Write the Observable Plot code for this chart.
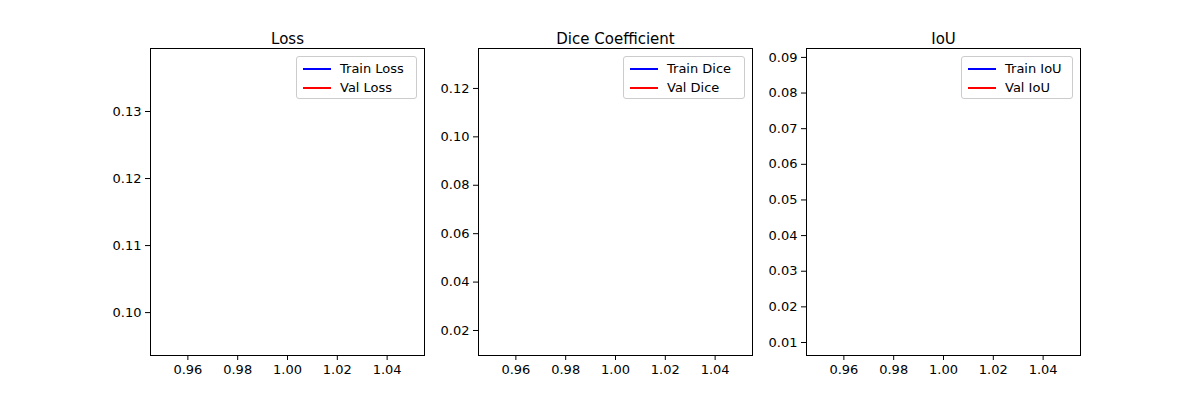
<!DOCTYPE html>
<html><head><meta charset="utf-8">
<script src="https://cdn.jsdelivr.net/npm/d3@7"></script>
<script src="https://cdn.jsdelivr.net/npm/@observablehq/plot@0.6"></script>
<style>
body{margin:0;background:#fff;font-family:"DejaVu Sans",sans-serif;}
#wrap{position:relative;width:1200px;height:400px;}
.panel{position:absolute;top:0;}
.panel svg{overflow:visible;}
.legend{position:absolute;border:1px solid #ccc;border-radius:3px;background:rgba(255,255,255,0.8);font:13px "DejaVu Sans",sans-serif;padding:2px 6px 1px 6px;}
.legend div{display:flex;align-items:center;height:19px;}
.legend span.sw{display:inline-block;width:28px;height:2px;margin-right:9px;}
</style></head>
<body><div id="wrap"></div>
<script>
const epochs = [1];
const titles = ["Loss", "Dice Coefficient", "IoU"];
const trainNames = ["Train Loss", "Train Dice", "Train IoU"];
const valNames = ["Val Loss", "Val Dice", "Val IoU"];
const trainVals = [0.1372, 0.1307, 0.0886];
const valVals = [0.0958, 0.0154, 0.0103];
const yDomains = [[0.0936, 0.1394], [0.00967, 0.1365], [0.00635, 0.0925]];
const yTicks = [[0.10,0.11,0.12,0.13],[0.02,0.04,0.06,0.08,0.10,0.12],[0.01,0.02,0.03,0.04,0.05,0.06,0.07,0.08,0.09]];
const xTicks = [0.96,0.98,1.00,1.02,1.04];
const xDomain = [0.945, 1.055];
const axLefts = [150, 478, 806];
const legendWidths = [121, 122, 112];

const wrap = document.getElementById("wrap");
titles.forEach((t, i) => {
  const train = epochs.map(e => ({x: e, y: trainVals[i]}));
  const val = epochs.map(e => ({x: e, y: valVals[i]}));
  const chart = Plot.plot({
    width: 344, height: 400,
    marginLeft: 60, marginRight: 10, marginTop: 48, marginBottom: 45,
    style: {fontFamily: "DejaVu Sans", fontSize: "13px", color: "#000", background: "transparent"},
    x: {domain: xDomain, ticks: xTicks, tickFormat: d => d.toFixed(2), label: null, tickSize: 5, tickPadding: 4},
    y: {domain: yDomains[i], ticks: yTicks[i], tickFormat: d => d.toFixed(2), label: null, tickSize: 5, tickPadding: 4},
    marks: [
      Plot.line(train, {x: "x", y: "y", stroke: "blue", strokeWidth: 1.5, strokeLinecap: "butt"}),
      Plot.line(val, {x: "x", y: "y", stroke: "red", strokeWidth: 1.5, strokeLinecap: "butt"}),
      Plot.frame({stroke: "#000", strokeWidth: 1, shapeRendering: "crispEdges"}),
      Plot.text([t], {text: d => d, frameAnchor: "top", dy: -15, fontSize: 15, fill: "#000"})
    ]
  });
  const d = document.createElement("div");
  d.className = "panel";
  d.style.left = (axLefts[i] - 60) + "px";
  d.appendChild(chart);
  wrap.appendChild(d);
  const lg = document.createElement("div");
  lg.className = "legend";
  lg.style.top = "56px";
  lg.style.left = (axLefts[i] + 274 - 7 - legendWidths[i]) + "px";
  lg.style.width = (legendWidths[i] - 14) + "px";
  lg.innerHTML = `<div><span class="sw" style="background:blue"></span>${trainNames[i]}</div><div><span class="sw" style="background:red"></span>${valNames[i]}</div>`;
  wrap.appendChild(lg);
});
</script></body></html>
